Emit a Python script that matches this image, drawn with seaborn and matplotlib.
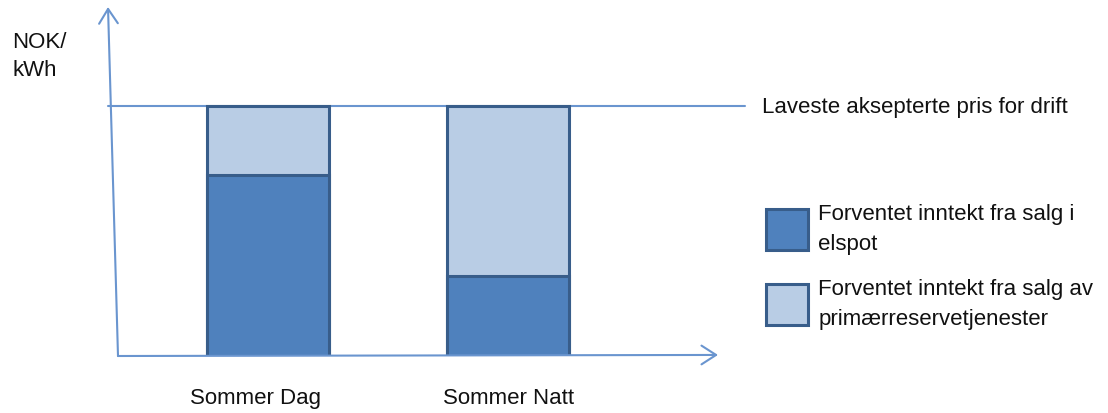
import matplotlib
matplotlib.use("Agg")
import matplotlib.pyplot as plt
import seaborn as sns
import pandas as pd

# data (arbitrary NOK/kWh units, bar top = lowest accepted price)
categories = ["Sommer Dag", "Sommer Natt"]
lowest_price = [1.0, 1.0]            # Laveste aksepterte pris for drift
elspot_income = [0.724, 0.32]        # Forventet inntekt fra salg i elspot
label_elspot = "Forventet inntekt fra salg i\nelspot"
label_reserve = "Forventet inntekt fra salg av\nprimærreservetjenester"
price_label = "Laveste aksepterte pris for drift"

df = pd.DataFrame({"kategori": categories, "total": lowest_price, "elspot": elspot_income})

sns.set_theme(style="white")
plt.rcParams["font.family"] = ["Liberation Sans", "DejaVu Sans"]

W, H = 1108, 414
fig = plt.figure(figsize=(W / 100, H / 100), dpi=100)
ax = fig.add_axes([118 / W, 1 - 357 / H, 600 / W, 349 / H])

dark = "#4F81BD"
light = "#B9CDE5"
edge = "#385D8A"
axis_col = "#6A95CF"

# reserve part drawn as the full bar, elspot part on top from zero
sns.barplot(data=df, x="kategori", y="total", color=light, saturation=1, width=0.508,
            edgecolor=edge, linewidth=2.2, label=label_reserve, ax=ax)
sns.barplot(data=df, x="kategori", y="elspot", color=dark, saturation=1, width=0.508,
            edgecolor=edge, linewidth=2.2, label=label_elspot, ax=ax)

ax.set_xlim(-0.625, 1.875)
ax.set_ylim(0, 1.396)
for s in ax.spines.values():
    s.set_visible(False)
ax.set_xticks([])
ax.set_yticks([])
ax.set_xlabel("")
ax.set_ylabel("")

# axis arrows
arrow = dict(arrowstyle="->,head_length=0.7,head_width=0.45", color=axis_col, lw=1.5,
             mutation_scale=15, shrinkA=0, shrinkB=0)
ax.annotate("", xy=(-10 / 600, 1.0), xytext=(0, 0), xycoords="axes fraction",
            arrowprops=arrow, annotation_clip=False)
ax.annotate("", xy=(1.0, 0.003), xytext=(0, 0), xycoords="axes fraction",
            arrowprops=arrow, annotation_clip=False)

# lowest accepted price line
ax.axhline(lowest_price[0], xmin=-10 / 600, xmax=627 / 600, color=axis_col, lw=1.5,
           clip_on=False, zorder=0)

fs = 16
tc = "#111111"
fig.text(12 / W, 1 - 48 / H, "NOK/", fontsize=fs, color=tc, va="baseline")
fig.text(12 / W, 1 - 76 / H, "kWh", fontsize=fs, color=tc, va="baseline")
fig.text(762 / W, 1 - 108 / H, price_label, fontsize=fs, color=tc, va="center")
for name, xc in zip(categories, [255, 509]):
    fig.text(xc / W, 1 - 404 / H, name, fontsize=fs, color=tc, ha="center", va="baseline")

handles, labels = ax.get_legend_handles_labels()
leg = ax.legend(handles[::-1], labels[::-1], loc="upper left",
                bbox_to_anchor=(766 / W, 1 - 204 / H), bbox_transform=fig.transFigure,
                frameon=False, fontsize=fs, handlelength=1.9, handleheight=2.45,
                handletextpad=0.45, labelspacing=1.1, borderpad=0, borderaxespad=0,
                labelcolor=tc)
for t in leg.get_texts():
    t.set_linespacing(1.55)

fig.savefig("out.png", dpi=100)
